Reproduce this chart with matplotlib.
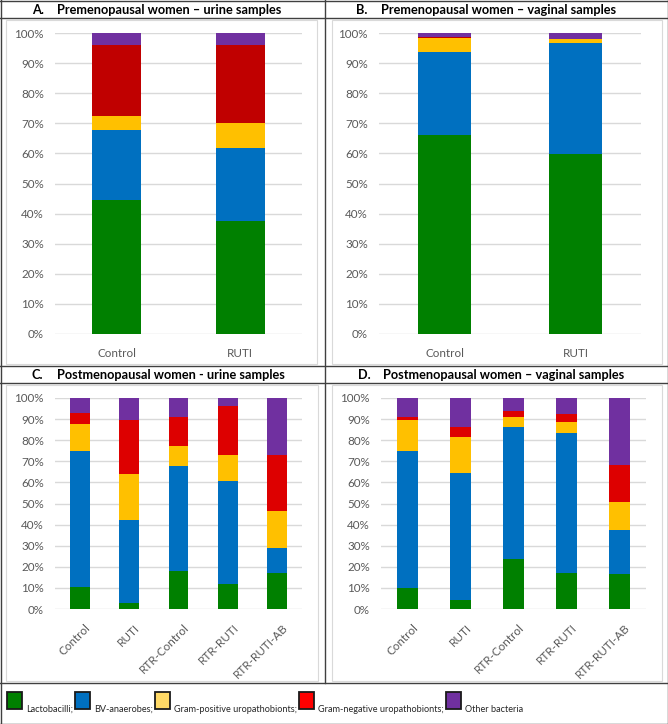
import matplotlib
matplotlib.use("Agg")
import matplotlib.pyplot as plt
import numpy as np
from matplotlib import font_manager
from matplotlib.lines import Line2D
from matplotlib.patches import Rectangle
from matplotlib.transforms import Bbox, TransformedBbox, ScaledTranslation

plt.rcParams['font.family'] = ['Lato', 'DejaVu Sans']

# categories
cats_pre = ["Control", "RUTI"]
cats_post = ["Control", "RUTI", "RTR-Control", "RTR-RUTI", "RTR-RUTI-AB"]
groups = ["Lactobacilli", "BV-anaerobes", "Gram-positive uropathobionts",
          "Gram-negative uropathobionts", "Other bacteria"]

# A. premenopausal urine (%)
a_lacto = [44.5, 37.4]
a_bv = [23.4, 24.5]
a_gpos = [4.6, 8.1]
a_gneg = [23.6, 25.9]
a_other = [3.9, 4.1]

# B. premenopausal vaginal
b_lacto = [66.1, 59.7]
b_bv = [27.5, 37.1]
b_gpos = [4.8, 1.1]
b_gneg = [0.2, 0.1]
b_other = [1.4, 2.0]

# C. postmenopausal urine
c_lacto = [10.3, 2.7, 17.9, 12.0, 17.1]
c_bv = [64.4, 39.3, 50.0, 48.7, 11.7]
c_gpos = [12.8, 21.8, 9.4, 12.1, 17.8]
c_gneg = [5.5, 25.9, 13.7, 23.3, 26.2]
c_other = [7.0, 10.3, 9.0, 3.9, 27.2]

# D. postmenopausal vaginal
d_lacto = [10.1, 4.4, 23.7, 17.1, 16.7]
d_bv = [64.8, 59.9, 62.4, 66.3, 20.7]
d_gpos = [14.8, 17.1, 4.9, 5.2, 13.2]
d_gneg = [1.5, 4.7, 2.8, 3.8, 17.8]
d_other = [8.8, 13.9, 6.2, 7.6, 31.6]

W, H = 668, 724
fig = plt.figure(figsize=(W / 100, H / 100), dpi=100)

def fx(x):
    return x / W

def fy(y):
    return 1 - y / H

def hline(y, x0=0, x1=W):
    fig.add_artist(Line2D([fx(x0), fx(x1)], [fy(y), fy(y)], color='#404040', lw=1.0))

def vline(x, y0=0, y1=H):
    fig.add_artist(Line2D([fx(x), fx(x)], [fy(y0), fy(y1)], color='#404040', lw=1.0))

# table frame
hline(0.5); hline(H - 0.5); vline(0.5); vline(W - 0.5)
hline(18); hline(366); hline(383); hline(683)
vline(325, 0, 683)

# light chart-area frames
for (l, t, r, b) in [(6, 20, 317, 364), (332, 20, 662, 364),
                     (6, 385, 318, 681), (332, 385, 662, 681)]:
    fig.add_artist(Rectangle((fx(l), fy(b)), (r - l) / W, (b - t) / H,
                             transform=fig.transFigure, fill=False,
                             ec='#D9D9D9', lw=0.8))

clip = TransformedBbox(Bbox([[0, 1 - 681 / H], [1, 1]]), fig.transFigure)
TICK = 8.4

def panel(rect, cats, series, colors, letter, title, title_y, rotate):
    l, t, r, b = rect
    ax = fig.add_axes([fx(l), fy(b), (r - l) / W, (b - t) / H])
    x = np.arange(len(cats))
    data = np.array(series, dtype=float)
    data = data / data.sum(axis=0) * 100
    bottom = np.zeros(len(cats))
    for vals, c in zip(data, colors):
        ax.bar(x, vals, 0.4, bottom=bottom, color=c, zorder=3, lw=0)
        bottom += vals
    ax.set_xlim(-0.5, len(cats) - 0.5)
    ax.set_ylim(0, 100)
    ax.set_yticks(range(0, 101, 10))
    ax.set_yticklabels([f"{v}%" for v in range(0, 101, 10)])
    ax.yaxis.grid(True, color='#D9D9D9', lw=1.0, zorder=0)
    ax.set_axisbelow(True)
    for s in ax.spines.values():
        s.set_visible(False)
    ax.tick_params(length=0, colors='#595959', labelsize=TICK)
    ax.tick_params(axis='y', pad=8)
    ax.set_xticks(x)
    if rotate:
        ax.set_xticklabels([])
        tr = ax.get_xaxis_transform() + ScaledTranslation(0.05, -0.13, fig.dpi_scale_trans)
        for xi, lab in zip(x, cats):
            fig.text(xi, 0, lab, transform=tr, rotation=45, ha='right', va='top',
                     rotation_mode='anchor', fontsize=TICK, color='#595959',
                     clip_on=True, clip_box=clip)
    else:
        ax.set_xticklabels(cats)
        ax.tick_params(axis='x', pad=10)
    fig.text(fx(l - 23), fy(title_y), letter, fontsize=9.2, fontweight='bold',
             va='center', ha='left')
    fig.text(fx(l + 2), fy(title_y), title, fontsize=9.2, fontweight='bold',
             va='center', ha='left')
    return ax

top_cols = ['#008000', '#0070C0', '#FFC000', '#C00000', '#7030A0']
bot_cols = ['#008000', '#0070C0', '#FFC000', '#DD0000', '#7030A0']

panel((55, 33, 302, 334), cats_pre, [a_lacto, a_bv, a_gpos, a_gneg, a_other],
      top_cols, "A.", "Premenopausal women \u2013 urine samples", 10, False)
panel((379, 33, 641, 334), cats_pre, [b_lacto, b_bv, b_gpos, b_gneg, b_other],
      top_cols, "B.", "Premenopausal women \u2013 vaginal samples", 10, False)
panel((55, 398, 302, 609), cats_post, [c_lacto, c_bv, c_gpos, c_gneg, c_other],
      bot_cols, "C.", "Postmenopausal women - urine samples", 375, True)
panel((381, 398, 646, 609), cats_post, [d_lacto, d_bv, d_gpos, d_gneg, d_other],
      bot_cols, "D.", "Postmenopausal women \u2013 vaginal samples", 375, True)

# legend row, laid out left to right from measured text widths
names = {f.name for f in font_manager.fontManager.ttflist}
if 'Liberation Sans Narrow' in names:
    leg_font, leg_size = 'Liberation Sans Narrow', 7.6
else:
    leg_font, leg_size = 'Lato', 6.6
leg_cols = ['#008000', '#0070C0', '#FFD966', '#FF0000', '#7030A0']
renderer = fig.canvas.get_renderer()
x0 = 7
for i, (g, c) in enumerate(zip(groups, leg_cols)):
    fig.add_artist(Rectangle((fx(x0), fy(709)), 15 / W, 17 / H,
                             transform=fig.transFigure, fc=c, ec='#1a1a1a', lw=1.3))
    label = g + (";" if i < len(groups) - 1 else "")
    t = fig.text(fx(x0 + 19), fy(712), label, fontsize=leg_size, va='baseline',
                 ha='left', color='#262626', family=leg_font)
    w = t.get_window_extent(renderer).width
    x0 = x0 + 19 + w + 2

fig.savefig("out.png", dpi=100)
